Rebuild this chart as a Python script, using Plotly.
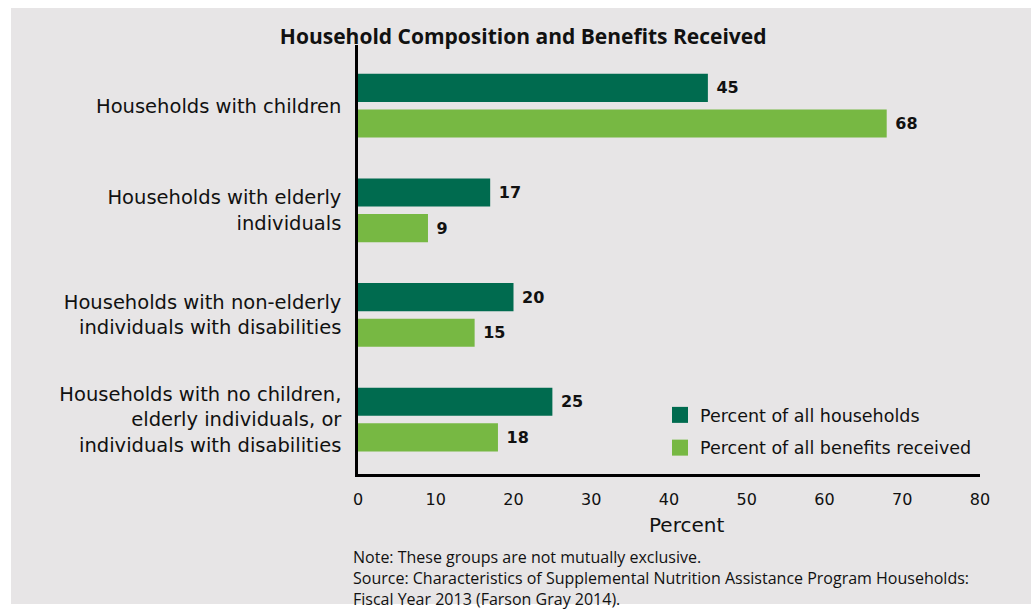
import plotly.graph_objects as go

categories = [
    "Households with children",
    "Households with elderly<br>individuals",
    "Households with non-elderly<br>individuals with disabilities",
    "Households with no children,<br>elderly individuals, or<br>individuals with disabilities",
]
pct_households = [45, 17, 20, 25]
pct_benefits = [68, 9, 15, 18]
series_names = ["Percent of all households", "Percent of all benefits received"]
x_ticks = [0, 10, 20, 30, 40, 50, 60, 70, 80]

DARK = "#006b4f"
LIGHT = "#77b843"
BG = "#e7e5e6"
FONT = "DejaVu Sans"
FONT2 = "Open Sans"
INK = "#111111"

W, H = 1036, 612
L, R, T, B = 358, 56, 45, 138
pw, ph = W - L - R, H - T - B

fig = go.Figure()
for name, vals, col in [(series_names[0], pct_households, DARK),
                        (series_names[1], pct_benefits, LIGHT)]:
    fig.add_trace(go.Bar(
        y=categories, x=vals, name=name, orientation="h",
        marker=dict(color=col, line=dict(width=0)),
        text=vals, texttemplate=" %{text}", textposition="outside",
        textfont=dict(family=FONT, size=16, color=INK, weight="bold"),
        cliponaxis=False, showlegend=False,
    ))
# legend entries with large square swatches
for i, (name, col) in enumerate([(series_names[0], DARK), (series_names[1], LIGHT)]):
    fig.add_trace(go.Scatter(
        x=[None], y=[None], mode="markers", name=name, legendgroup=f"g{i}",
        marker=dict(symbol="square", size=19, color=col),
        showlegend=True,
    ))

def px_to_paper_x(px):
    return (px - L) / pw

def px_to_paper_y(py):
    return (H - B - py) / ph

fig.add_shape(type="rect", xref="paper", yref="paper",
              x0=px_to_paper_x(11), x1=px_to_paper_x(1031),
              y0=px_to_paper_y(604), y1=px_to_paper_y(8),
              fillcolor=BG, line=dict(width=0), layer="below")

fig.add_annotation(
    xref="paper", yref="paper", x=px_to_paper_x(351), y=px_to_paper_y(544),
    xanchor="left", yanchor="top", align="left", showarrow=False,
    text=("Note: These groups are not mutually exclusive.<br>"
          "Source: Characteristics of Supplemental Nutrition Assistance Program Households:<br>"
          "Fiscal Year 2013 (Farson Gray 2014)."),
    font=dict(family=FONT2, size=16, color=INK),
)
fig.add_annotation(
    xref="paper", yref="paper", x=px_to_paper_x(686), y=px_to_paper_y(525),
    xanchor="center", yanchor="middle", showarrow=False,
    text="Percent", font=dict(family=FONT, size=20, color=INK),
)

fig.update_layout(
    width=W, height=H,
    margin=dict(l=L, r=R, t=T, b=B),
    paper_bgcolor="white", plot_bgcolor="rgba(0,0,0,0)",
    barmode="group", bargap=0.32, bargroupgap=0.21,
    title=dict(text="<b>Household Composition and Benefits Received</b>",
               x=0.505, xanchor="center", y=1 - 37 / H, yanchor="middle",
               font=dict(family=FONT2, size=21, color=INK)),
    font=dict(family=FONT, color=INK),
    showlegend=True,
    legend=dict(x=px_to_paper_x(660), y=px_to_paper_y(397), xanchor="left", yanchor="top",
                bgcolor="rgba(0,0,0,0)", font=dict(family=FONT, size=17.5, color=INK),
                traceorder="grouped", itemwidth=30, tracegroupgap=7),
    xaxis=dict(range=[0, 80], tickvals=x_ticks, showgrid=False, zeroline=False,
               showline=True, linecolor="black", linewidth=2.5,
               ticks="", ticklabelstandoff=9,
               tickfont=dict(family=FONT, size=16, color=INK)),
    yaxis=dict(categoryorder="array", categoryarray=categories,
               range=[3.52, -0.58], showgrid=False, zeroline=False,
               showline=True, linecolor="black", linewidth=2.5,
               ticks="", ticklabelstandoff=10,
               tickfont=dict(family=FONT, size=19.5, color=INK)),
)

fig.write_html("out.html", config={"displayModeBar": False},
               post_script="document.body.style.margin='0';")
